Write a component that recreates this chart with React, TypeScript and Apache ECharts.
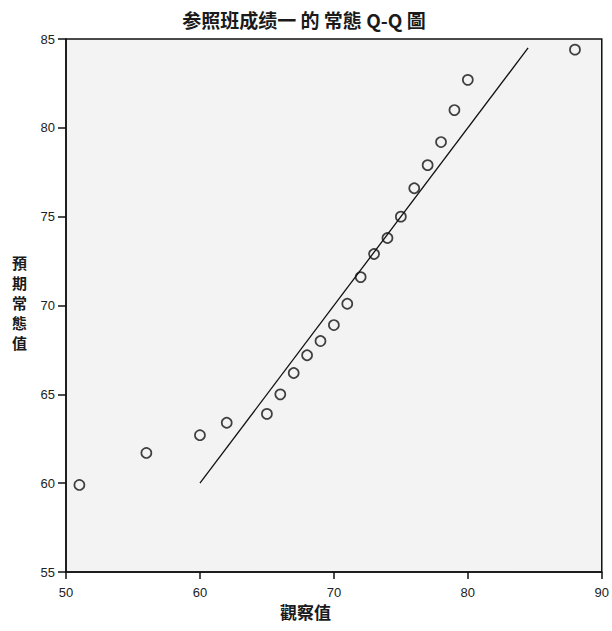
import React, { useEffect, useRef } from "react";
import * as echarts from "echarts";

const observed = [51, 56, 60, 62, 65, 66, 67, 68, 69, 70, 71, 72, 73, 74, 75, 76, 77, 78, 79, 80, 88];
const expected = [59.9, 61.7, 62.7, 63.4, 63.9, 65.0, 66.2, 67.2, 68.0, 68.9, 70.1, 71.6, 72.9, 73.8, 75.0, 76.6, 77.9, 79.2, 81.0, 82.7, 84.4];
const lineX = [60, 84.5];
const lineY = [60, 84.5];

const title = "参照班成绩一 的 常態 Q-Q 圖";
const xName = "觀察值";
const yName = "預期常態值";

export default function App() {
  const ref = useRef<HTMLDivElement>(null);
  useEffect(() => {
    if (!ref.current) return;
    const chart = echarts.init(ref.current, null, { renderer: "svg" });
    const pts = observed.map((x, i) => [x, expected[i]]);
    const line = lineX.map((x, i) => [x, lineY[i]]);
    const yChars = yName.split("").map((ch, i) => ({
      type: "text",
      left: 12,
      top: 254 + i * 20,
      style: { text: ch, font: "bold 15px 'Noto Sans CJK TC'", fill: "#1a1a1a", lineHeight: 16 },
    }));
    chart.setOption({
      animation: false,
      backgroundColor: "#ffffff",
      title: {
        text: title,
        left: 299,
        textAlign: "center",
        top: 5,
        textStyle: { fontFamily: "Noto Sans CJK TC", fontSize: 19, fontWeight: "bold", color: "#1a1a1a" },
      },
      grid: {
        left: 66,
        right: 10,
        top: 39,
        bottom: 59,
        show: true,
        backgroundColor: "#f3f3f3",
        borderColor: "#111",
        borderWidth: 1.5,
      },
      xAxis: {
        type: "value",
        min: 50,
        max: 90,
        interval: 10,
        axisLine: { show: true, lineStyle: { color: "#111", width: 1.5 } },
        axisTick: { show: true, length: 7, lineStyle: { color: "#111", width: 1.5 } },
        axisLabel: { fontFamily: "Liberation Sans", fontSize: 13, color: "#222", margin: 14 },
        splitLine: { show: false },
      },
      yAxis: {
        type: "value",
        min: 55,
        max: 85,
        interval: 5,
        axisLine: { show: true, lineStyle: { color: "#111", width: 1.5 } },
        axisTick: { show: true, length: 8, lineStyle: { color: "#111", width: 1.5 } },
        axisLabel: { fontFamily: "Liberation Sans", fontSize: 13, color: "#222", margin: 11 },
        splitLine: { show: false },
      },
      graphic: [
        {
          type: "text",
          left: 280,
          top: 603,
          style: { text: xName, font: "bold 17px 'Noto Sans CJK TC'", fill: "#1a1a1a" },
        },
        ...yChars,
      ],
      series: [
        {
          type: "line",
          data: line,
          symbol: "none",
          lineStyle: { color: "#111", width: 1.3 },
          silent: true,
        },
        {
          type: "scatter",
          data: pts,
          symbol: "circle",
          symbolSize: 10,
          itemStyle: { color: "rgba(0,0,0,0)", borderColor: "#111", borderWidth: 1.7 },
        },
      ],
    });
    return () => chart.dispose();
  }, []);
  return <div ref={ref} style={{ width: 612, height: 631, position: "absolute", left: 0, top: 0 }} />;
}
